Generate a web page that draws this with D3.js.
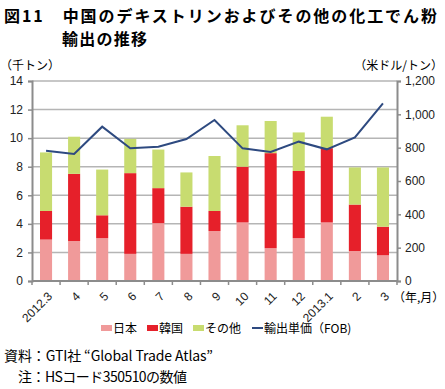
<!DOCTYPE html>
<html>
<head>
<meta charset="utf-8">
<script src="https://cdn.jsdelivr.net/npm/d3@7"></script>
<style>
  body { margin: 0; background: #fff; }
  svg { font-family: "Noto Sans CJK JP", "Liberation Sans", sans-serif; }
</style>
</head>
<body>
<div id="chart"></div>
<script>
// 月のラベル
const months = ["2012.3", "4", "5", "6", "7", "8", "9", "10", "11", "12", "2013.1", "2", "3"];
// 千トン
const japan = [2.9, 2.8, 3.0, 1.9, 4.05, 1.9, 3.5, 4.1, 2.3, 3.0, 4.1, 2.1, 1.8];
const korea = [2.0, 4.7, 1.6, 5.65, 2.45, 3.3, 1.4, 3.9, 6.65, 4.7, 5.2, 3.25, 2.0];
const other = [4.1, 2.6, 3.2, 2.4, 2.7, 2.4, 3.85, 2.9, 2.25, 2.7, 2.2, 2.6, 4.15];
// 米ドル/トン
const price = [782, 762, 926, 796, 806, 852, 966, 796, 774, 836, 790, 862, 1066];

const leftTicks = [0, 2, 4, 6, 8, 10, 12, 14];
const rightTicks = [0, 200, 400, 600, 800, 1000, 1200];

const width = 445;
const height = 389;
const margin = { top: 81, right: 48, bottom: 108, left: 32 };

const svg = d3.select("#chart")
  .append("svg")
  .attr("width", width)
  .attr("height", height);

// タイトル
svg.append("text")
  .attr("x", 4).attr("y", 22)
  .style("font-size", "16px").style("font-weight", "bold")
  .attr("textLength", 433)
  .text("図11　中国のデキストリンおよびその他の化工でん粉");
svg.append("text")
  .attr("x", 62).attr("y", 45)
  .style("font-size", "16px").style("font-weight", "bold")
  .attr("textLength", 85)
  .text("輸出の推移");

const x = d3.scaleBand()
  .domain(months)
  .range([margin.left, width - margin.right])
  .paddingInner(0.57)
  .paddingOuter(0.285);

const yL = d3.scaleLinear().domain([0, 14]).range([height - margin.bottom, margin.top]);
const yR = d3.scaleLinear().domain([0, 1200]).range([height - margin.bottom, margin.top]);

// グリッド
svg.append("g")
  .selectAll("line")
  .data(leftTicks.slice(1))
  .join("line")
  .attr("x1", margin.left).attr("x2", width - margin.right)
  .attr("y1", (d) => yL(d)).attr("y2", (d) => yL(d))
  .attr("stroke", "#b5b5b5")
  .attr("stroke-width", 1.5);

// 積み上げ棒
const stackData = months.map((m, i) => ({ m: m, japan: japan[i], korea: korea[i], other: other[i] }));
const series = d3.stack().keys(["japan", "korea", "other"])(stackData);
const colors = { japan: "#f09a9a", korea: "#e6202a", other: "#c8dc70" };

svg.append("g")
  .selectAll("g")
  .data(series)
  .join("g")
  .attr("fill", (s) => colors[s.key])
  .selectAll("rect")
  .data((s) => s)
  .join("rect")
  .attr("x", (d) => x(d.data.m))
  .attr("width", x.bandwidth())
  .attr("y", (d) => yL(d[1]))
  .attr("height", (d) => yL(d[0]) - yL(d[1]));

// 輸出単価の線
const line = d3.line()
  .x((d, i) => x(months[i]) + x.bandwidth() / 2)
  .y((d) => yR(d));

svg.append("path")
  .datum(price)
  .attr("fill", "none")
  .attr("stroke", "#2e4a80")
  .attr("stroke-width", 2)
  .attr("d", line);

// 軸
const axisColor = "#8c8c8c";
const gL = svg.append("g")
  .attr("transform", `translate(${margin.left},0)`)
  .call(d3.axisLeft(yL).tickValues(leftTicks).tickSize(4).tickPadding(5));
const gR = svg.append("g")
  .attr("transform", `translate(${width - margin.right},0)`)
  .call(d3.axisRight(yR).tickValues(rightTicks).tickSize(4).tickPadding(4).tickFormat(d3.format(",")));

[gL, gR].forEach((g) => {
  g.select(".domain").attr("stroke", axisColor).attr("stroke-width", 2);
  g.selectAll(".tick line").attr("stroke", axisColor).attr("stroke-width", 1.5);
  g.selectAll("text").style("font-size", "12px").attr("fill", "#222")
    .style("font-family", "'Liberation Sans', sans-serif");
});

// x軸
const gX = svg.append("g").attr("transform", `translate(0,${height - margin.bottom})`);
gX.append("line")
  .attr("x1", margin.left).attr("x2", width - margin.right)
  .attr("stroke", axisColor).attr("stroke-width", 2);
const step = x.step();
gX.selectAll("line.tk")
  .data(d3.range(months.length + 1))
  .join("line")
  .attr("class", "tk")
  .attr("x1", (i) => margin.left + i * step).attr("x2", (i) => margin.left + i * step)
  .attr("y1", 0).attr("y2", 4)
  .attr("stroke", axisColor).attr("stroke-width", 1.5);
gX.selectAll("text")
  .data(months)
  .join("text")
  .attr("transform", (d) => `translate(${x(d) + x.bandwidth() / 2 + 1},${10}) rotate(-45)`)
  .attr("text-anchor", "end")
  .attr("dy", "0.7em")
  .style("font-size", "12px")
  .style("font-family", "'Liberation Sans', sans-serif")
  .attr("fill", "#222")
  .text((d) => d);

svg.append("text")
  .attr("x", 393).attr("y", 302)
  .style("font-size", "12px")
  .text("（年,月）");

// 単位
svg.append("text").attr("x", 0).attr("y", 70).style("font-size", "12px").text("（千トン）");
svg.append("text").attr("x", 443).attr("y", 70).attr("text-anchor", "end")
  .style("font-size", "12px").text("（米ドル/トン）");

// 凡例
const legend = [
  { label: "日本", color: colors.japan, x: 101, type: "rect" },
  { label: "韓国", color: colors.korea, x: 147, type: "rect" },
  { label: "その他", color: colors.other, x: 193, type: "rect" },
  { label: "輸出単価（FOB)", color: "#2e4a80", x: 252, type: "line" },
];
const lg = svg.append("g");
legend.forEach((d) => {
  if (d.type === "rect") {
    lg.append("rect").attr("x", d.x).attr("y", 325).attr("width", 11).attr("height", 6).attr("fill", d.color);
  } else {
    lg.append("line").attr("x1", d.x).attr("x2", d.x + 11).attr("y1", 328).attr("y2", 328)
      .attr("stroke", d.color).attr("stroke-width", 2);
  }
  lg.append("text").attr("x", d.x + 12).attr("y", 333).style("font-size", "12px").text(d.label);
});

// 注記
svg.append("text").attr("x", 4).attr("y", 361).style("font-size", "14px")
  .attr("textLength", 209)
  .text("資料：GTI社 “Global Trade Atlas”");
svg.append("text").attr("x", 18).attr("y", 382).style("font-size", "14px")
  .attr("textLength", 169)
  .text("注：HSコード350510の数値");
</script>
</body>
</html>
